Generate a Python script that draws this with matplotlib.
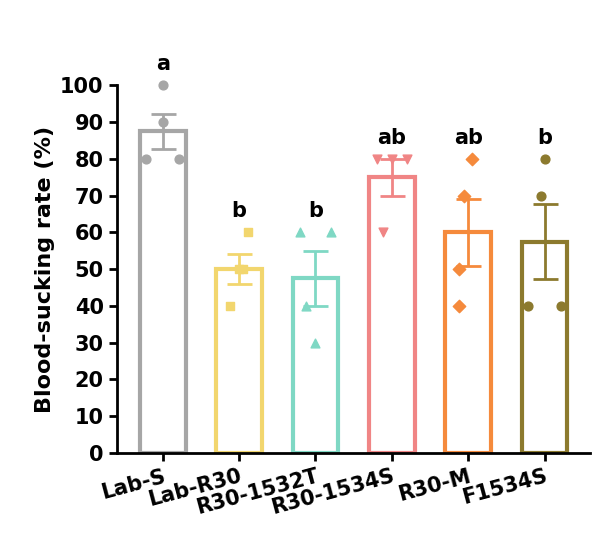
import numpy as np
import matplotlib
matplotlib.use("Agg")
import matplotlib.pyplot as plt

groups = ["Lab-S", "Lab-R30", "R30-1532T", "R30-1534S", "R30-M", "F1534S"]
values = [
    [100, 90, 80, 80],
    [60, 50, 50, 40],
    [60, 60, 40, 30],
    [80, 80, 80, 60],
    [80, 70, 50, 40],
    [80, 70, 40, 40],
]
letters = ["a", "b", "b", "ab", "ab", "b"]
colors = ["#a6a6a6", "#f2d66e", "#7fd8c4", "#f08585", "#f58a3c", "#8c7a2e"]
markers = ["o", "s", "^", "v", "D", "o"]
offsets = [[0, 0, -0.22, 0.22], [0.12, 0, 0.05, -0.12], [-0.2, 0.2, -0.12, 0.0],
           [-0.2, 0.2, 0.0, -0.12], [0.05, -0.05, -0.12, -0.12], [0, -0.05, -0.22, 0.22]]

fig, ax = plt.subplots(figsize=(6.15, 5.51), dpi=100)
fig.subplots_adjust(left=0.19, right=0.96, top=0.845, bottom=0.178)
x = np.arange(len(groups))
for i, v in enumerate(values):
    v = np.array(v, float)
    m = v.mean(); se = v.std(ddof=1) / np.sqrt(len(v))
    ax.bar(x[i], m, width=0.6, facecolor="white", edgecolor=colors[i], linewidth=3, zorder=2)
    ax.errorbar(x[i], m, yerr=se, color=colors[i], capsize=9, capthick=2, elinewidth=2, zorder=3)
    ax.scatter(x[i] + np.array(offsets[i]), v, color=colors[i], marker=markers[i], s=40,
               zorder=4, clip_on=False)
    ax.text(x[i], max(v.max(), m + se) + 3, letters[i], ha="center", va="bottom",
            fontsize=15, fontweight="bold", clip_on=False)

ax.set_ylim(0, 100)
ax.set_xlim(-0.6, len(groups) - 0.4)
ax.set_yticks(range(0, 101, 10))
ax.set_xticks(x)
ax.set_xticklabels(groups, rotation=15, ha="right", fontsize=15, fontweight="bold", rotation_mode="anchor")
for t in ax.get_yticklabels():
    t.set_fontsize(15); t.set_fontweight("bold")
ax.set_ylabel("Blood-sucking rate (%)", fontsize=16, fontweight="bold")
for s in ["top", "right"]:
    ax.spines[s].set_visible(False)
for s in ["left", "bottom"]:
    ax.spines[s].set_linewidth(2)
ax.tick_params(width=2, length=6)
fig.savefig("out.png", dpi=100)
